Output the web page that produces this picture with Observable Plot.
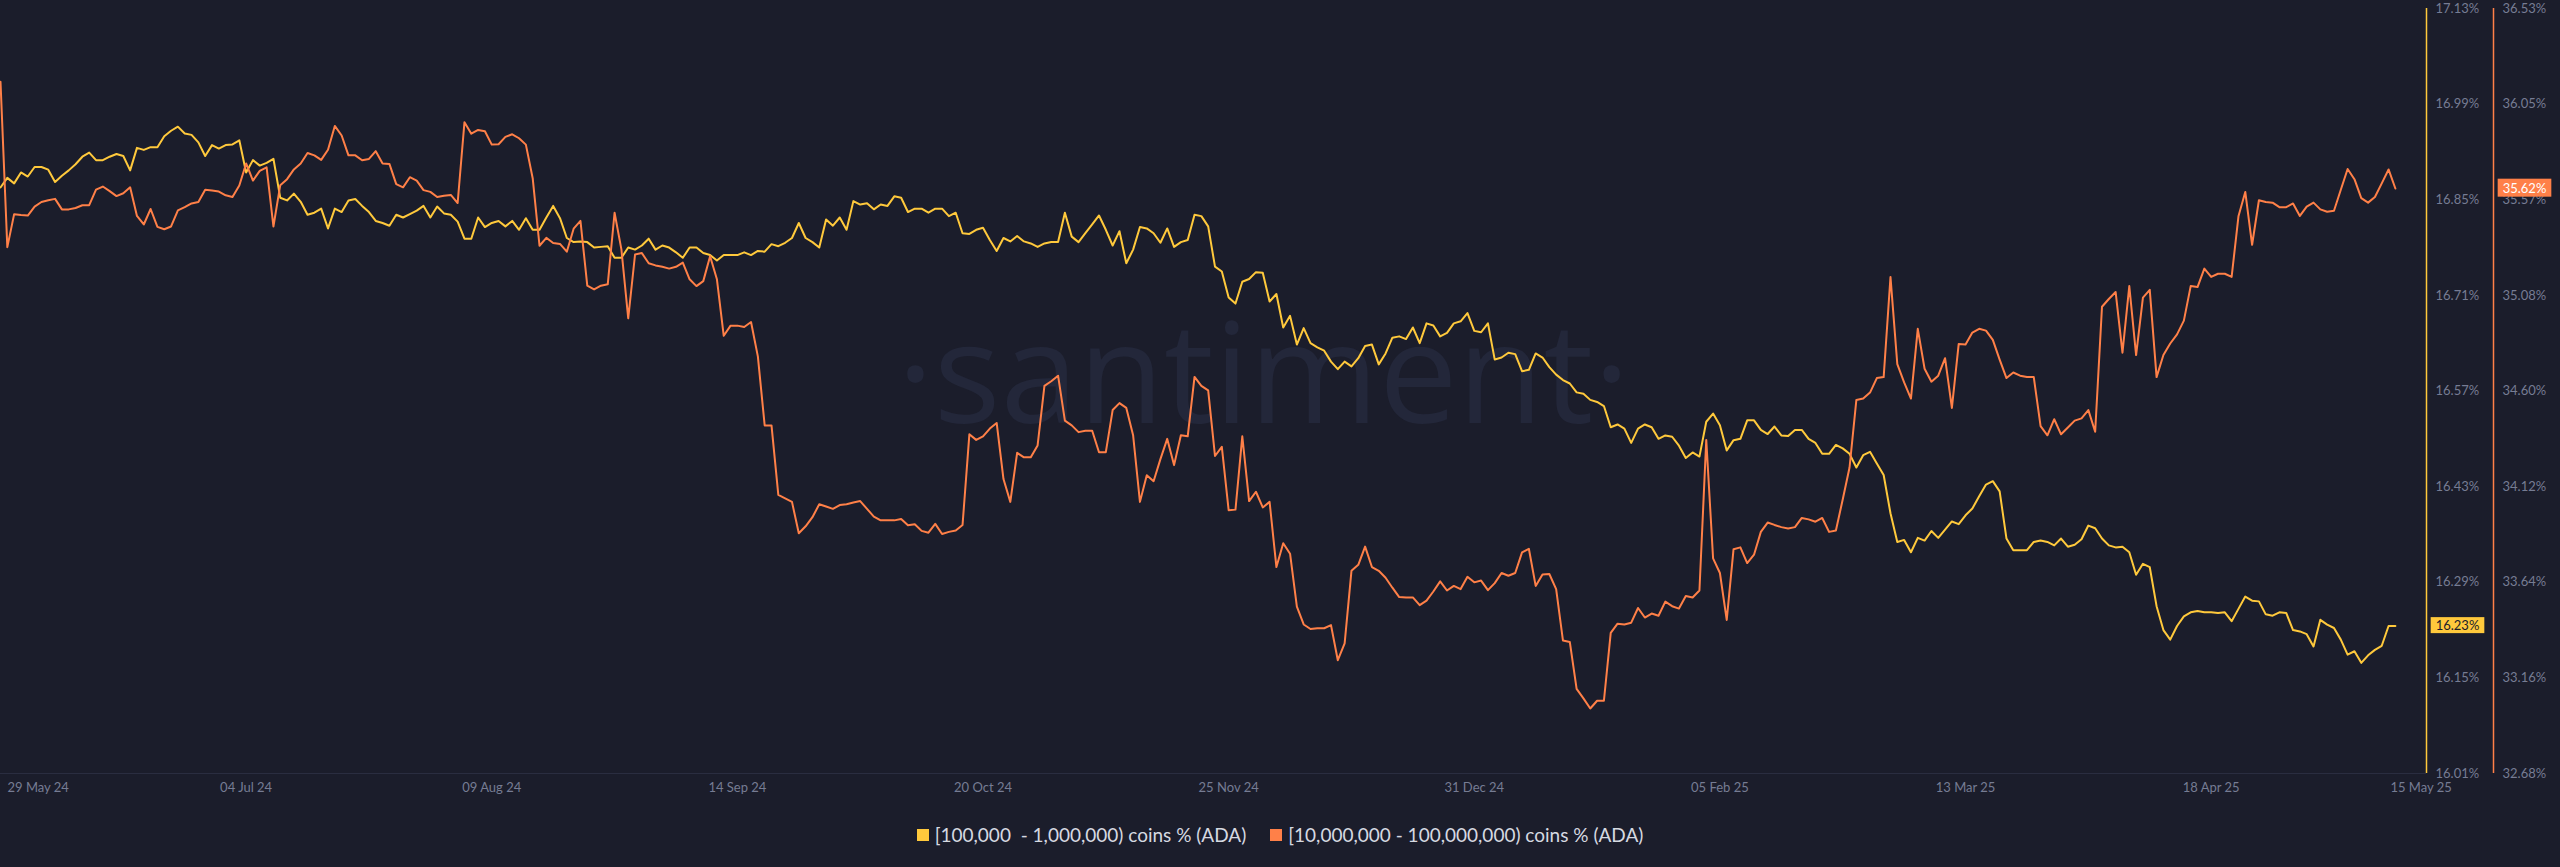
<!DOCTYPE html>
<html>
<head>
<meta charset="utf-8">
<script src="https://cdn.jsdelivr.net/npm/d3@7"></script>
<script src="https://cdn.jsdelivr.net/npm/@observablehq/plot@0.6"></script>
<style>
  html, body { margin: 0; padding: 0; background: #1b1d2b; width: 2560px; height: 867px; overflow: hidden; }
  #chart { width: 2560px; height: 810px; }
  #legend { display: flex; justify-content: center; align-items: center; gap: 24px; padding-top: 15px;
    font-family: Lato, "Open Sans", sans-serif; font-size: 19px; color: #d6d9e1; line-height: 20px; }
  #legend .item { display: flex; align-items: center; gap: 6px; }
  #legend .sw { width: 12px; height: 12px; display: inline-block; }
</style>
</head>
<body>
<div id="chart"></div>
<div id="legend"></div>
<script>
// ---- data (daily, starting 29 May 2024) ----
const START_DATE = "2024-05-29";
const seriesNames = ["[100,000  - 1,000,000) coins % (ADA)", "[10,000,000 - 100,000,000) coins % (ADA)"];

// [100,000 - 1,000,000) coins % (left axis)
const holders100k = [
16.868,16.882,16.874,16.890,16.884,16.898,16.898,16.894,16.876,16.885,
16.893,16.902,16.913,16.919,16.908,16.908,16.913,16.917,16.914,16.893,
16.926,16.923,16.927,16.927,16.943,16.951,16.957,16.947,16.945,16.934,
16.914,16.930,16.925,16.930,16.931,16.937,16.890,16.908,16.900,16.904,
16.910,16.853,16.849,16.859,16.847,16.828,16.831,16.837,16.808,16.837,
16.832,16.849,16.851,16.841,16.832,16.819,16.816,16.812,16.828,16.824,
16.829,16.834,16.841,16.824,16.840,16.830,16.828,16.818,16.793,16.793,
16.824,16.810,16.816,16.819,16.811,16.819,16.806,16.823,16.806,16.806,
16.824,16.841,16.823,16.794,16.788,16.789,16.788,16.780,16.781,16.782,
16.765,16.765,16.780,16.777,16.783,16.793,16.777,16.783,16.780,16.773,
16.765,16.780,16.780,16.772,16.769,16.761,16.769,16.769,16.769,16.773,
16.769,16.775,16.774,16.785,16.782,16.787,16.794,16.816,16.794,16.788,
16.780,16.821,16.812,16.824,16.806,16.848,16.843,16.845,16.836,16.843,
16.841,16.855,16.853,16.832,16.837,16.837,16.831,16.837,16.837,16.826,
16.831,16.801,16.800,16.806,16.809,16.791,16.775,16.794,16.789,16.797,
16.789,16.786,16.781,16.786,16.788,16.788,16.831,16.796,16.788,16.801,
16.814,16.827,16.806,16.783,16.804,16.757,16.777,16.810,16.808,16.801,
16.787,16.808,16.781,16.788,16.791,16.828,16.826,16.811,16.752,16.745,
16.707,16.698,16.730,16.734,16.744,16.743,16.701,16.712,16.663,16.680,
16.638,16.662,16.640,16.634,16.629,16.613,16.602,16.613,16.606,16.618,
16.636,16.638,16.609,16.625,16.648,16.650,16.646,16.663,16.640,16.669,
16.666,16.650,16.655,16.669,16.672,16.684,16.658,16.656,16.669,16.616,
16.619,16.626,16.624,16.599,16.601,16.625,16.619,16.605,16.594,16.586,
16.581,16.568,16.566,16.557,16.554,16.548,16.517,16.521,16.515,16.494,
16.515,16.521,16.517,16.500,16.505,16.503,16.490,16.472,16.480,16.474,
16.525,16.537,16.520,16.483,16.498,16.500,16.527,16.527,16.513,16.507,
16.518,16.505,16.504,16.513,16.513,16.500,16.494,16.478,16.478,16.491,
16.486,16.478,16.458,16.476,16.481,16.464,16.447,16.391,16.349,16.352,
16.334,16.355,16.351,16.365,16.355,16.367,16.379,16.375,16.388,16.398,
16.416,16.433,16.438,16.423,16.354,16.337,16.337,16.337,16.349,16.351,
16.349,16.344,16.354,16.342,16.345,16.353,16.373,16.369,16.354,16.344,
16.341,16.342,16.334,16.301,16.317,16.312,16.255,16.220,16.206,16.226,
16.240,16.246,16.248,16.246,16.246,16.245,16.246,16.233,16.251,16.269,
16.263,16.262,16.243,16.241,16.246,16.245,16.220,16.218,16.214,16.196,
16.235,16.228,16.223,16.206,16.184,16.189,16.172,16.183,16.191,16.197,
16.226,16.226
];

// [10,000,000 - 100,000,000) coins % (right axis)
const holders10m = [
36.161,35.329,35.495,35.491,35.488,35.533,35.556,35.565,35.572,35.519,
35.519,35.526,35.540,35.540,35.618,35.634,35.611,35.586,35.600,35.630,
35.486,35.443,35.521,35.431,35.419,35.433,35.514,35.530,35.549,35.556,
35.618,35.614,35.609,35.590,35.581,35.639,35.750,35.664,35.713,35.731,
35.433,35.641,35.671,35.720,35.750,35.803,35.791,35.768,35.819,35.939,
35.891,35.791,35.791,35.766,35.773,35.812,35.750,35.748,35.646,35.630,
35.681,35.664,35.616,35.607,35.581,35.588,35.592,35.551,35.958,35.900,
35.919,35.912,35.845,35.847,35.884,35.897,35.877,35.845,35.676,35.336,
35.376,35.350,35.345,35.306,35.422,35.461,35.135,35.116,35.135,35.142,
35.502,35.318,34.971,35.292,35.299,35.248,35.237,35.230,35.221,35.230,
35.251,35.167,35.133,35.158,35.283,35.167,34.883,34.934,34.934,34.927,
34.952,34.779,34.432,34.432,34.082,34.065,34.047,33.889,33.924,33.970,
34.035,34.024,34.012,34.031,34.035,34.044,34.051,34.012,33.973,33.954,
33.954,33.954,33.961,33.929,33.934,33.901,33.892,33.936,33.885,33.896,
33.903,33.931,34.387,34.359,34.377,34.416,34.444,34.162,34.047,34.294,
34.271,34.271,34.331,34.631,34.654,34.682,34.456,34.432,34.398,34.405,
34.405,34.297,34.297,34.509,34.544,34.520,34.382,34.047,34.181,34.151,
34.262,34.364,34.232,34.382,34.377,34.676,34.631,34.608,34.278,34.324,
34.005,34.008,34.377,34.051,34.098,34.019,34.047,33.719,33.839,33.786,
33.520,33.430,33.407,33.411,33.411,33.427,33.250,33.335,33.700,33.730,
33.822,33.719,33.700,33.665,33.615,33.568,33.566,33.566,33.527,33.550,
33.596,33.647,33.601,33.624,33.608,33.670,33.642,33.651,33.603,33.638,
33.689,33.675,33.689,33.793,33.811,33.624,33.682,33.684,33.608,33.349,
33.342,33.106,33.058,33.007,33.046,33.046,33.388,33.434,33.430,33.439,
33.513,33.465,33.485,33.474,33.545,33.522,33.510,33.573,33.566,33.601,
34.359,33.763,33.689,33.453,33.809,33.818,33.739,33.781,33.896,33.943,
33.931,33.920,33.913,33.920,33.966,33.959,33.947,33.966,33.896,33.903,
34.059,34.220,34.560,34.567,34.597,34.670,34.675,35.179,34.740,34.648,
34.567,34.918,34.717,34.652,34.682,34.770,34.520,34.842,34.839,34.899,
34.918,34.909,34.862,34.763,34.670,34.698,34.682,34.675,34.675,34.428,
34.382,34.463,34.387,34.421,34.456,34.467,34.509,34.400,35.029,35.068,
35.103,34.798,35.133,34.786,35.075,35.114,34.675,34.786,34.844,34.890,
34.959,35.133,35.128,35.221,35.179,35.195,35.195,35.179,35.484,35.607,
35.341,35.565,35.556,35.553,35.530,35.530,35.549,35.486,35.533,35.553,
35.519,35.507,35.512,35.618,35.722,35.671,35.576,35.553,35.581,35.650,
35.720,35.624
];

const leftTicks  = [16.01, 16.15, 16.29, 16.43, 16.57, 16.71, 16.85, 16.99, 17.13];
const rightTicks = [32.68, 33.16, 33.64, 34.12, 34.60, 35.08, 35.57, 36.05, 36.53];
const xTickDates = ["2024-05-29","2024-07-04","2024-08-09","2024-09-14","2024-10-20","2024-11-25",
                    "2024-12-31","2025-02-05","2025-03-13","2025-04-18","2025-05-15"];

// ---- styling ----
const YELLOW = "#ffc93c";
const ORANGE = "#ff8048";
const BG = "#1b1d2b";
const TICK = "#767c93";

// ---- build ----
const DAY = 864e5;
const t0 = new Date(START_DATE + "T00:00:00Z");
const xEnd = new Date(+t0 + 355.56 * DAY);
const L0 = leftTicks[0], L1 = leftTicks[leftTicks.length - 1];
const R0 = rightTicks[0], R1 = rightTicks[rightTicks.length - 1];
const toLeft = v => L0 + (v - R0) * (L1 - L0) / (R1 - R0);

const rows = holders100k.map((v, i) => ({
  date: new Date(+t0 + i * DAY),
  a: v,
  b: toLeft(holders10m[i])
}));
const last = rows[rows.length - 1];
const lastA = holders100k[holders100k.length - 1];
const lastB = holders10m[holders10m.length - 1];

const ticks = xTickDates.map(s => new Date(s + "T00:00:00Z"));
const fmt = d3.utcFormat("%d %b %y");
const fontFam = "Lato, 'Open Sans', sans-serif";

const chart = Plot.plot({
  width: 2560,
  height: 810,
  marginTop: 8,
  marginBottom: 37,
  marginLeft: 0,
  marginRight: 134,
  style: { background: "transparent", color: TICK, fontFamily: fontFam, fontSize: "13px", overflow: "visible" },
  x: { type: "utc", domain: [t0, xEnd], axis: null },
  y: { domain: [L0, L1], axis: null, label: null },
  marks: [
    Plot.text(["·santiment·"], { text: d => d, frameAnchor: "middle", dx: 50, dy: 32, lineAnchor: "bottom",
      fontSize: 140, fontFamily: "'Open Sans', sans-serif", fill: "#23273a", letterSpacing: -6 }),
    Plot.ruleY([L0], { stroke: "#2a2d40", strokeWidth: 1 }),
    Plot.ruleX([xEnd], { stroke: YELLOW, strokeWidth: 1.5 }),
    Plot.ruleX([xEnd], { stroke: ORANGE, strokeWidth: 1.5, dx: 67 }),
    Plot.axisY({ anchor: "right", ticks: leftTicks, tickSize: 0, tickPadding: 9, label: null,
      tickFormat: d => d.toFixed(2) + "%", fill: TICK }),
    Plot.axisY({ anchor: "right", ticks: leftTicks, tickSize: 0, tickPadding: 76, label: null,
      tickFormat: d => rightTicks[leftTicks.indexOf(d)].toFixed(2) + "%", fill: TICK }),
    Plot.text(ticks.slice(0, 1), { x: d => d, text: fmt, frameAnchor: "bottom", dy: 14, lineAnchor: "middle",
      textAnchor: "start", dx: 7, fill: TICK }),
    Plot.text(ticks.slice(1, -1), { x: d => d, text: fmt, frameAnchor: "bottom", dy: 14, lineAnchor: "middle", fill: TICK }),
    Plot.text(ticks.slice(-1), { x: d => d, text: fmt, frameAnchor: "bottom", dy: 14, lineAnchor: "middle",
      textAnchor: "start", dx: -5, fill: TICK }),
    Plot.lineY(rows, { x: "date", y: "a", stroke: YELLOW, strokeWidth: 2 }),
    Plot.lineY(rows, { x: "date", y: "b", stroke: ORANGE, strokeWidth: 2 }),
    Plot.text([last], { x: () => xEnd, y: "a", text: () => lastA.toFixed(2) + "%", dx: 31,
      fill: "#1b1d2b", className: "vlab-a", lineAnchor: "middle" }),
    Plot.text([last], { x: () => xEnd, y: "b", text: () => lastB.toFixed(2) + "%", dx: 98,
      fill: "#ffffff", className: "vlab-b", lineAnchor: "middle" })
  ]
});
document.getElementById("chart").appendChild(chart);

// label backgrounds
for (const [cls, fill, h] of [["vlab-a", YELLOW, 16], ["vlab-b", ORANGE, 18]]) {
  const g = chart.querySelector("g." + cls) || chart.querySelector("." + cls);
  if (!g) continue;
  g.querySelectorAll("text").forEach(t => {
    const b = t.getBBox();
    const r = document.createElementNS("http://www.w3.org/2000/svg", "rect");
    const cy = b.y + b.height / 2;
    r.setAttribute("x", b.x - 5);
    r.setAttribute("y", cy - h / 2);
    r.setAttribute("width", b.width + 10);
    r.setAttribute("height", h);
    r.setAttribute("fill", fill);
    if (t.getAttribute("transform")) r.setAttribute("transform", t.getAttribute("transform"));
    t.parentNode.insertBefore(r, t);
  });
}

// legend
const legend = document.getElementById("legend");
[[seriesNames[0], YELLOW], [seriesNames[1], ORANGE]].forEach(([name, c]) => {
  const it = document.createElement("div");
  it.className = "item";
  const sw = document.createElement("span");
  sw.className = "sw";
  sw.style.background = c;
  const tx = document.createElement("span");
  tx.textContent = name;
  tx.style.whiteSpace = "pre";
  it.appendChild(sw); it.appendChild(tx);
  legend.appendChild(it);
});
</script>
</body>
</html>
